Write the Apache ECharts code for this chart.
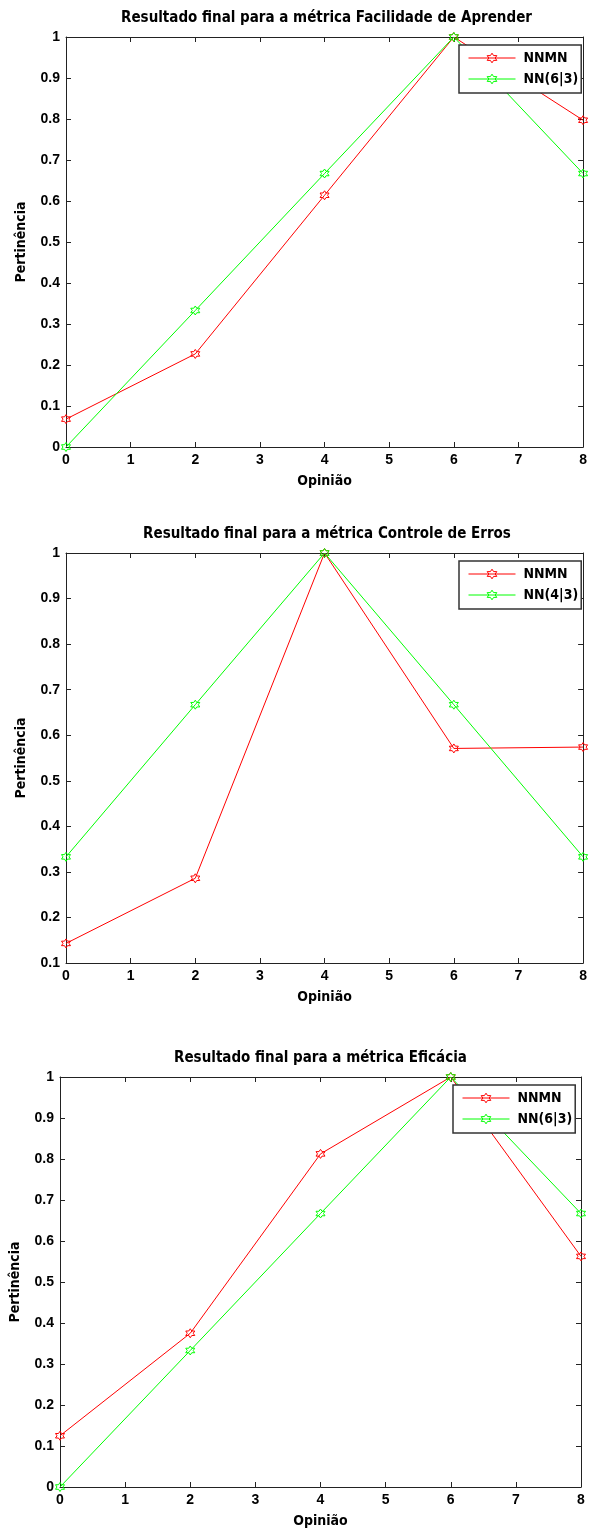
<!DOCTYPE html>
<html>
<head>
<meta charset="utf-8">
<script src="https://cdn.jsdelivr.net/npm/echarts@6/dist/echarts.min.js"></script>
<style>
  html, body { margin: 0; padding: 0; background: #fff; }
  #chart { width: 590px; height: 1531px; }
</style>
</head>
<body>
<div id="chart"></div>
<script>
// dados
const opiniao = [0, 2, 4, 6, 8]
const titulos = [
  'Resultado final para a métrica Facilidade de Aprender',
  'Resultado final para a métrica Controle de Erros',
  'Resultado final para a métrica Eficácia'
]
const nomesVerde = ['NN(6|3)', 'NN(4|3)', 'NN(6|3)']
const facilidadeNNMN = [0.068, 0.227, 0.614, 1.0, 0.797]
const facilidadeNN = [0, 0.333, 0.667, 1.0, 0.667]
const controleNNMN = [0.143, 0.286, 1.0, 0.571, 0.574]
const controleNN = [0.333, 0.667, 1.0, 0.667, 0.333]
const eficaciaNNMN = [0.125, 0.375, 0.8125, 1.0, 0.5625]
const eficaciaNN = [0, 0.333, 0.667, 1.0, 0.667]
const yMins = [0, 0.1, 0]

const vermelhos = [facilidadeNNMN, controleNNMN, eficaciaNNMN]
const verdes = [facilidadeNN, controleNN, eficaciaNN]

const fonte = '"Liberation Sans Narrow", "Liberation Sans", Arial, sans-serif'
const fonteCond = '"DejaVu Sans Condensed", "Liberation Sans", sans-serif'
const hexagrama = 'path://M100,0 L128.9,50 L186.6,50 L157.7,100 L186.6,150 L128.9,150 L100,200 L71.1,150 L13.4,150 L42.3,100 L13.4,50 L71.1,50 Z'

const grids = [
  { left: 66, top: 37, width: 521, height: 410 },
  { left: 66, top: 553, width: 522, height: 410 },
  { left: 60, top: 1077, width: 521, height: 410 }
]
const legendas = [
  { left: 459, top: 45 },
  { left: 459, top: 561 },
  { left: 453, top: 1085 }
]

const corEixo = '#222'
const xAxis = []
const yAxis = []
const series = []
const legend = []
const graphic = []

grids.forEach((g, i) => {
  const eixoX = {
    gridIndex: i, type: 'value', min: 0, max: 8, interval: 1,
    axisLine: { onZero: false, lineStyle: { color: corEixo, width: 1 } },
    axisTick: { inside: true, length: 5, lineStyle: { color: corEixo } },
    splitLine: { show: false }
  }
  const eixoY = {
    gridIndex: i, type: 'value', min: yMins[i], max: 1, interval: 0.1,
    axisLine: { onZero: false, lineStyle: { color: corEixo, width: 1 } },
    axisTick: { inside: true, length: 5, lineStyle: { color: corEixo } },
    splitLine: { show: false }
  }
  xAxis.push(Object.assign({}, eixoX, {
    position: 'bottom',
    name: 'Opinião', nameLocation: 'middle', nameGap: 27,
    nameTextStyle: { fontFamily: fonteCond, fontWeight: 'bold', fontSize: 14, color: '#000' },
    axisLabel: { margin: 6, fontFamily: fonte, fontWeight: 'bold', fontSize: 14, color: '#000' }
  }))
  xAxis.push(Object.assign({}, eixoX, { position: 'top', axisLabel: { show: false } }))
  yAxis.push(Object.assign({}, eixoY, {
    position: 'left',
    name: 'Pertinência', nameLocation: 'middle', nameGap: 38,
    nameTextStyle: { fontFamily: fonteCond, fontWeight: 'bold', fontSize: 14, color: '#000' },
    axisLabel: {
      margin: 6, fontFamily: fonte, fontWeight: 'bold', fontSize: 14, color: '#000',
      formatter: v => String(+v.toFixed(1))
    }
  }))
  yAxis.push(Object.assign({}, eixoY, { position: 'right', axisLabel: { show: false } }))

  const mk = (nome, valores, cor) => ({
    name: nome,
    type: 'line',
    xAxisIndex: i * 2,
    yAxisIndex: i * 2,
    data: opiniao.map((x, k) => [x, valores[k]]),
    color: cor,
    symbol: hexagrama,
    symbolSize: 9,
    showSymbol: true,
    lineStyle: { color: cor, width: 1 },
    itemStyle: { color: 'transparent', borderColor: cor, borderWidth: 1 },
    emphasis: { disabled: true },
    animation: false
  })
  series.push(mk('NNMN', vermelhos[i], '#ff0000'))
  series.push(mk(nomesVerde[i], verdes[i], '#00ff00'))

  legend.push({
    left: legendas[i].left, top: legendas[i].top,
    orient: 'vertical',
    data: ['NNMN', nomesVerde[i]],
    backgroundColor: '#fff',
    borderColor: '#333', borderWidth: 1.5,
    padding: [6, 3, 7, 9],
    itemWidth: 47, itemHeight: 12, itemGap: 7,
    selectedMode: false,
    itemStyle: { borderWidth: 1 },
    lineStyle: { width: 1 },
    textStyle: { fontFamily: fonteCond, fontWeight: 'bold', fontSize: 14, color: '#000', padding: [0, 0, 0, 3] }
  })

  graphic.push({
    type: 'text',
    x: g.left + g.width / 2,
    y: [18, 534, 1058][i],
    style: {
      text: titulos[i],
      textAlign: 'center',
      textVerticalAlign: 'middle',
      font: 'bold 15px ' + fonteCond,
      fill: '#000'
    }
  })
})

const myChart = echarts.init(document.getElementById('chart'))
myChart.setOption({
  animation: false,
  grid: grids.map(g => Object.assign({ containLabel: false }, g)),
  xAxis: xAxis,
  yAxis: yAxis,
  legend: legend,
  series: series,
  graphic: graphic
})
</script>
</body>
</html>
